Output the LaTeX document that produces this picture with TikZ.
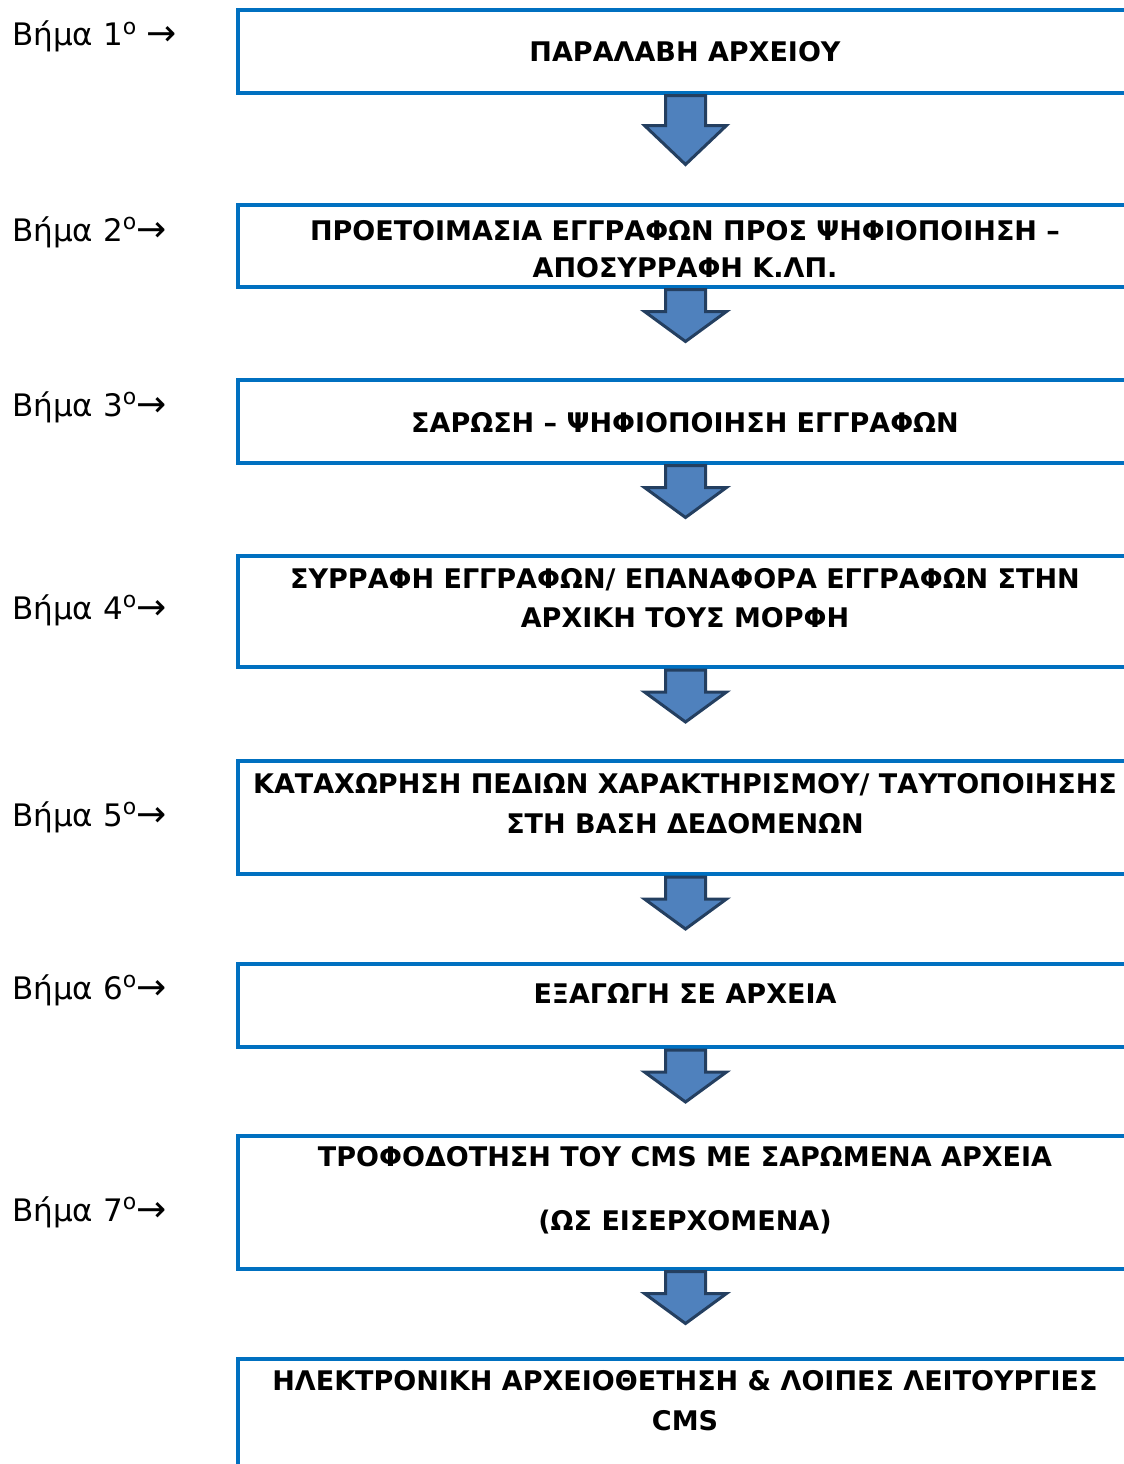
\documentclass[tikz,border=0pt]{standalone}
\usepackage{fontspec}
\setmainfont{DejaVu Sans}
\definecolor{boxblue}{HTML}{0070C0}
\definecolor{arrfill}{HTML}{4F81BD}
\definecolor{arrline}{HTML}{243F60}
\tikzset{
  stepbox/.style={draw=boxblue, line width=4pt, minimum width=896pt, minimum height=#1, inner sep=0pt, outer sep=0pt, anchor=north west},
  steptext/.style={anchor=base, inner sep=0pt, font=\fontsize{27}{32}\selectfont\bfseries},
  steplabel/.style={anchor=base west, inner sep=0pt, font=\fontsize{31}{36}\selectfont},
  blockarr/.style={fill=arrfill, draw=arrline, line width=3pt, line join=miter}
}
\newcommand\downarrowblock[3]{%
  \path[blockarr] (#1.south) ++(-20,3) -- ++(0,#2) -- ++(-21,0) -- ++(41,#3) -- ++(41,-#3) -- ++(-21,0) -- ++(0,-#2) -- cycle;}
\newcommand\ordsup[1]{\raisebox{0.38em}{\fontsize{22}{22}\selectfont #1}}
\newcommand\rarr{{\fontsize{36}{36}\selectfont →}}
\begin{document}
\begin{tikzpicture}[x=1pt,y=-1pt]
\useasboundingbox (0,0) rectangle (1124,1464);
\clip (0,0) rectangle (1124,1464);
% boxes
\node[stepbox=82pt]    (b1) at (237.5,10.5) {};
\node[stepbox=82pt]    (b2) at (237.5,204.5) {};
\node[stepbox=83pt]    (b3) at (237.5,379.5) {};
\node[stepbox=111.5pt] (b4) at (237.5,555.5) {};
\node[stepbox=113.5pt] (b5) at (237.5,760.5) {};
\node[stepbox=83pt]    (b6) at (237.5,964) {};
\node[stepbox=133pt]   (b7) at (237.5,1135.5) {};
\node[stepbox=141pt]   (b8) at (237.5,1359) {};
% block arrows
\downarrowblock{b1}{30}{39}
\downarrowblock{b2}{22}{30}
\downarrowblock{b3}{22}{30}
\downarrowblock{b4}{22}{30}
\downarrowblock{b5}{22}{30}
\downarrowblock{b6}{22}{30}
\downarrowblock{b7}{22}{30}
% box texts
\node[steptext] (t1)  at (685,62)   {ΠΑΡΑΛΑΒΗ ΑΡΧΕΙΟΥ};
\node[steptext] (t2a) at (685,240)  {ΠΡΟΕΤΟΙΜΑΣΙΑ ΕΓΓΡΑΦΩΝ ΠΡΟΣ ΨΗΦΙΟΠΟΙΗΣΗ –};
\node[steptext] (t2b) at (685,277)  {ΑΠΟΣΥΡΡΑΦΗ Κ.ΛΠ.};
\node[steptext] (t3)  at (685,432)  {ΣΑΡΩΣΗ – ΨΗΦΙΟΠΟΙΗΣΗ ΕΓΓΡΑΦΩΝ};
\node[steptext] (t4a) at (685,588)  {ΣΥΡΡΑΦΗ ΕΓΓΡΑΦΩΝ/ ΕΠΑΝΑΦΟΡΑ ΕΓΓΡΑΦΩΝ ΣΤΗΝ};
\node[steptext] (t4b) at (685,627)  {ΑΡΧΙΚΗ ΤΟΥΣ ΜΟΡΦΗ};
\node[steptext] (t5a) at (685,793)  {ΚΑΤΑΧΩΡΗΣΗ ΠΕΔΙΩΝ ΧΑΡΑΚΤΗΡΙΣΜΟΥ/ ΤΑΥΤΟΠΟΙΗΣΗΣ};
\node[steptext] (t5b) at (685,833)  {ΣΤΗ ΒΑΣΗ ΔΕΔΟΜΕΝΩΝ};
\node[steptext] (t6)  at (685,1003) {ΕΞΑΓΩΓΗ ΣΕ ΑΡΧΕΙΑ};
\node[steptext] (t7a) at (685,1166) {ΤΡΟΦΟΔΟΤΗΣΗ ΤΟΥ CMS ΜΕ ΣΑΡΩΜΕΝΑ ΑΡΧΕΙΑ};
\node[steptext] (t7b) at (685,1230) {(ΩΣ ΕΙΣΕΡΧΟΜΕΝΑ)};
\node[steptext] (t8a) at (685,1390) {ΗΛΕΚΤΡΟΝΙΚΗ ΑΡΧΕΙΟΘΕΤΗΣΗ \& ΛΟΙΠΕΣ ΛΕΙΤΟΥΡΓΙΕΣ};
\node[steptext] (t8b) at (685,1430) {CMS};
% step labels
\node[steplabel] (l1) at (12,46)   {Βήμα 1\ordsup{o} \rarr};
\node[steplabel] (l2) at (12,241)  {Βήμα 2\ordsup{o}\rarr};
\node[steplabel] (l3) at (12,416)  {Βήμα 3\ordsup{o}\rarr};
\node[steplabel] (l4) at (12,619)  {Βήμα 4\ordsup{o}\rarr};
\node[steplabel] (l5) at (12,826)  {Βήμα 5\ordsup{o}\rarr};
\node[steplabel] (l6) at (12,999)  {Βήμα 6\ordsup{o}\rarr};
\node[steplabel] (l7) at (12,1221)  {Βήμα 7\ordsup{o}\rarr};
\end{tikzpicture}
\end{document}
